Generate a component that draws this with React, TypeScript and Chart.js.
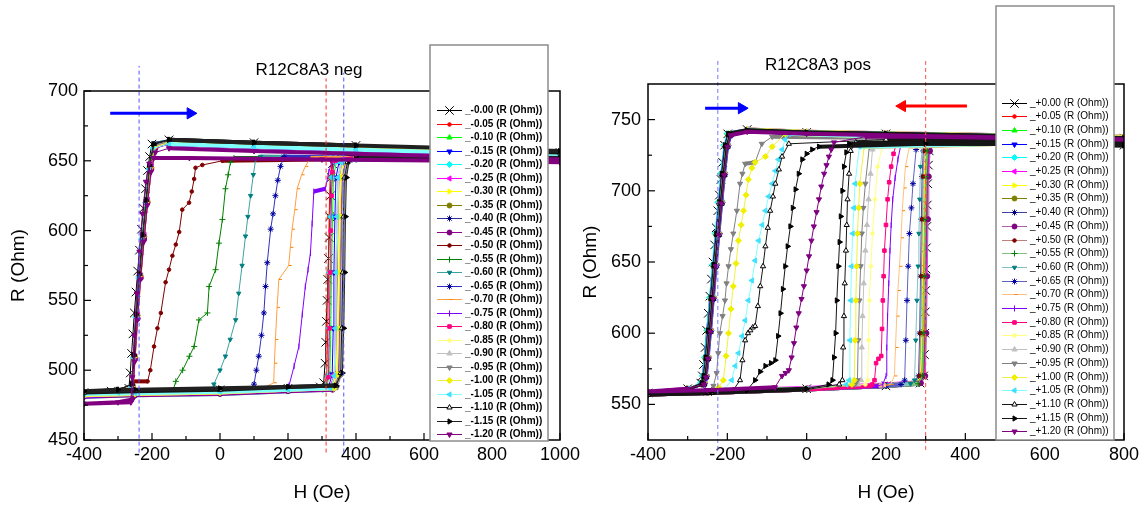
import React, { useEffect, useRef } from 'react';
import { Chart, registerables } from 'chart.js';
import { drawPoint } from 'chart.js/helpers';

Chart.register(...registerables);
Chart.defaults.font.family = "'Liberation Sans', Arial, sans-serif";

type Pt = [number, number];

// ================= LEFT PANEL: R12C8A3 neg =================
const negBias = ['-0.00', '-0.05', '-0.10', '-0.15', '-0.20', '-0.25', '-0.30', '-0.35', '-0.40', '-0.45', '-0.50', '-0.55', '-0.60', '-0.65', '-0.70', '-0.75', '-0.80', '-0.85', '-0.90', '-0.95', '-1.00', '-1.05', '-1.10', '-1.15', '-1.20'];
const negXTicks = [-400, -200, 0, 200, 400, 600, 800, 1000];
const negYTicks = [450, 500, 550, 600, 650, 700];

const n000: Pt[] = [[1000, 656], [700, 658], [400, 661], [100, 663], [-150, 665], [-200, 662], [-207, 653], [-213, 643], [-219, 630], [-225, 616], [-231, 601], [-237, 586], [-242, 571], [-247, 556], [-252, 541], [-256, 526], [-260, 512], [-264, 498], [-268, 487], [-320, 485], [-400, 484],
  [-250, 484], [0, 486], [200, 487], [295, 488], [305, 491], [309, 505], [311, 520], [313, 535], [315, 550], [317, 565], [319, 580], [321, 595], [323, 610], [325, 625], [327, 638], [331, 648], [340, 652], [400, 653], [700, 652], [1000, 651]];
const n005: Pt[] = [[1000, 655], [700, 657], [400, 660], [100, 662], [-150, 664], [-195, 661], [-208, 645], [-218, 620], [-228, 595], [-238, 568], [-246, 540], [-253, 512], [-259, 490], [-300, 485], [-400, 483],
  [-250, 484], [0, 485], [200, 487], [305, 488], [314, 496], [317, 530], [319, 570], [321, 610], [324, 638], [330, 649], [400, 652], [700, 652], [1000, 651]];
const n010: Pt[] = [[1000, 656], [700, 658], [400, 660], [100, 662], [-150, 664], [-192, 662], [-205, 645], [-215, 622], [-226, 596], [-236, 568], [-244, 540], [-252, 510], [-258, 489], [-300, 484], [-400, 482],
  [-250, 483], [0, 484], [200, 486], [312, 487], [323, 497], [326, 530], [328, 570], [331, 610], [334, 638], [342, 649], [400, 652], [700, 651], [1000, 650]];
const n015: Pt[] = [[1000, 655], [700, 657], [400, 659], [100, 661], [-150, 663], [-190, 660], [-203, 645], [-214, 620], [-224, 595], [-234, 567], [-243, 538], [-251, 508], [-257, 488], [-300, 484], [-400, 482],
  [-250, 483], [0, 484], [200, 486], [318, 487], [330, 497], [333, 530], [335, 570], [338, 610], [341, 638], [350, 649], [400, 652], [700, 651], [1000, 650]];
const n020: Pt[] = [[1000, 654], [700, 656], [400, 658], [100, 660], [-150, 662], [-196, 659], [-209, 644], [-219, 620], [-229, 594], [-239, 566], [-247, 538], [-254, 509], [-260, 487], [-300, 483], [-400, 481],
  [-250, 482], [0, 483], [200, 485], [302, 486], [318, 496], [321, 530], [323, 570], [326, 610], [329, 638], [338, 649], [400, 651], [700, 651], [1000, 650]];
const n025: Pt[] = [[1000, 655], [700, 657], [400, 659], [100, 661], [-150, 663], [-188, 660], [-200, 646], [-212, 622], [-222, 597], [-233, 568], [-242, 540], [-250, 510], [-256, 488], [-300, 484], [-400, 482],
  [-250, 483], [0, 484], [200, 486], [322, 487], [336, 497], [339, 530], [341, 570], [344, 610], [347, 638], [356, 649], [400, 652], [700, 651], [1000, 650]];
const n030: Pt[] = [[1000, 656], [700, 658], [400, 660], [100, 662], [-150, 664], [-193, 661], [-206, 646], [-217, 621], [-227, 596], [-237, 568], [-245, 540], [-252, 511], [-258, 489], [-300, 485], [-400, 483],
  [-250, 484], [0, 485], [200, 487], [332, 488], [346, 497], [349, 530], [351, 570], [354, 610], [357, 638], [366, 649], [400, 652], [700, 652], [1000, 651]];
const n035: Pt[] = [[1000, 655], [700, 657], [400, 659], [100, 661], [-150, 663], [-191, 660], [-204, 645], [-215, 621], [-225, 595], [-235, 567], [-244, 538], [-251, 509], [-257, 488], [-300, 484], [-400, 482],
  [-250, 483], [0, 484], [200, 486], [326, 487], [341, 497], [344, 530], [346, 570], [349, 610], [352, 638], [361, 649], [400, 652], [700, 651], [1000, 650]];
const n040: Pt[] = [[1000, 656], [700, 658], [400, 660], [100, 662], [-150, 664], [-194, 662], [-206, 646], [-216, 622], [-226, 597], [-236, 569], [-245, 540], [-253, 510], [-259, 489], [-300, 485], [-400, 483],
  [-250, 484], [0, 485], [200, 487], [336, 488], [351, 497], [354, 530], [356, 570], [359, 610], [362, 638], [371, 649], [400, 652], [700, 652], [1000, 651]];
const n045: Pt[] = [[1000, 654], [700, 656], [400, 658], [100, 660], [-150, 662], [-190, 659], [-202, 644], [-213, 620], [-223, 594], [-233, 566], [-242, 537], [-250, 508], [-256, 487], [-300, 483], [-400, 481],
  [-250, 482], [0, 483], [200, 485], [331, 486], [348, 497], [351, 530], [353, 570], [356, 610], [359, 638], [368, 649], [400, 651], [700, 651], [1000, 650]];
const n050: Pt[] = [[1000, 655], [700, 657], [400, 659], [100, 661], [-150, 663], [-192, 660], [-205, 645], [-216, 621], [-226, 596], [-236, 568], [-245, 539], [-252, 510], [-258, 490], [-300, 485], [-400, 483],
  [-270, 484], [-257, 492], [-213, 492], [-205, 500], [-194, 517], [-184, 530], [-174, 541], [-160, 563], [-150, 572], [-140, 582], [-130, 590], [-120, 599], [-111, 615], [-91, 620], [-83, 628], [-76, 637], [-72, 645], [-52, 647], [7, 650], [300, 651], [700, 651], [1000, 650]];
const n055: Pt[] = [[1000, 656], [700, 658], [400, 660], [100, 662], [-150, 664], [-195, 661], [-207, 645], [-217, 621], [-227, 596], [-237, 568], [-246, 539], [-253, 510], [-259, 489], [-300, 484], [-400, 482],
  [-140, 484], [-130, 492], [-110, 500], [-90, 510], [-76, 517], [-62, 536], [-37, 541], [-32, 560], [-13, 572], [-3, 591], [7, 608], [16, 630], [24, 640], [31, 649], [41, 652], [300, 652], [700, 651], [1000, 650]];
const n060: Pt[] = [[1000, 655], [700, 657], [400, 659], [100, 661], [-150, 663], [-191, 660], [-203, 645], [-214, 620], [-224, 595], [-234, 567], [-243, 539], [-251, 509], [-257, 488], [-300, 484], [-400, 482],
  [-25, 485], [-18, 490], [0, 500], [16, 510], [30, 522], [46, 536], [55, 555], [65, 575], [75, 596], [82, 610], [90, 625], [98, 640], [105, 651], [119, 653], [400, 652], [700, 651], [1000, 650]];
const n065: Pt[] = [[1000, 656], [700, 658], [400, 660], [100, 662], [-150, 664], [-193, 661], [-205, 646], [-216, 621], [-226, 596], [-236, 568], [-245, 539], [-252, 510], [-258, 489], [-300, 485], [-400, 483],
  [90, 486], [100, 490], [107, 500], [114, 510], [122, 525], [129, 541], [134, 560], [139, 577], [149, 601], [156, 612], [163, 625], [170, 636], [178, 646], [188, 653], [400, 652], [700, 651], [1000, 650]];
const n070: Pt[] = [[1000, 655], [700, 657], [400, 659], [100, 661], [-150, 663], [-189, 660], [-201, 645], [-212, 621], [-222, 596], [-232, 567], [-241, 539], [-249, 509], [-255, 488], [-300, 484], [-400, 482],
  [125, 486], [134, 488], [158, 491], [160, 505], [163, 522], [168, 545], [173, 565], [202, 575], [207, 588], [212, 601], [220, 615], [227, 630], [240, 640], [251, 646], [266, 652], [400, 652], [700, 651], [1000, 650]];
const n075: Pt[] = [[1000, 654], [700, 656], [400, 658], [100, 660], [-150, 662], [-194, 659], [-206, 644], [-216, 620], [-226, 595], [-236, 567], [-245, 538], [-252, 509], [-258, 488], [-300, 483], [-400, 481],
  [195, 486], [203, 489], [218, 503], [232, 517], [242, 540], [251, 560], [259, 572], [266, 584], [271, 605], [276, 628], [310, 630], [320, 642], [330, 650], [400, 652], [700, 651], [1000, 650]];
const n080: Pt[] = [[1000, 655], [700, 657], [400, 659], [100, 661], [-150, 663], [-190, 660], [-203, 645], [-213, 621], [-223, 596], [-233, 568], [-242, 540], [-250, 510], [-256, 489], [-300, 484], [-400, 482],
  [-250, 483], [0, 484], [200, 486], [308, 487], [319, 495], [322, 530], [324, 570], [326, 600], [328, 625], [331, 642], [338, 650], [400, 652], [700, 651], [1000, 650]];
const n085: Pt[] = [[1000, 656], [700, 658], [400, 660], [100, 662], [-150, 664], [-192, 661], [-204, 646], [-215, 621], [-225, 596], [-235, 568], [-244, 539], [-251, 510], [-257, 489], [-300, 485], [-400, 483],
  [-250, 484], [0, 485], [200, 487], [330, 488], [342, 497], [345, 530], [348, 570], [350, 610], [353, 638], [362, 649], [400, 652], [700, 651], [1000, 650]];
const n090: Pt[] = [[1000, 655], [700, 657], [400, 659], [100, 661], [-150, 663], [-195, 660], [-207, 645], [-217, 621], [-227, 596], [-237, 568], [-246, 539], [-253, 510], [-259, 489], [-300, 484], [-400, 482],
  [-250, 483], [0, 484], [200, 486], [340, 487], [352, 497], [355, 530], [358, 570], [360, 610], [363, 638], [372, 649], [400, 652], [700, 651], [1000, 650]];
const n095: Pt[] = [[1000, 656], [700, 658], [400, 660], [100, 662], [-150, 664], [-191, 661], [-203, 646], [-214, 621], [-224, 596], [-234, 568], [-243, 539], [-251, 510], [-257, 489], [-300, 485], [-400, 483],
  [-250, 484], [0, 485], [200, 487], [345, 488], [358, 497], [361, 530], [364, 570], [366, 610], [369, 638], [378, 649], [400, 652], [700, 651], [1000, 650]];
const n100: Pt[] = [[1000, 655], [700, 657], [400, 659], [100, 661], [-150, 663], [-193, 660], [-205, 645], [-216, 621], [-226, 596], [-236, 568], [-245, 539], [-252, 510], [-258, 489], [-300, 484], [-400, 482],
  [-250, 483], [0, 484], [200, 486], [335, 487], [346, 497], [349, 530], [352, 570], [354, 610], [357, 638], [366, 649], [400, 652], [700, 651], [1000, 650]];
const n105: Pt[] = [[1000, 654], [700, 656], [400, 658], [100, 660], [-150, 662], [-197, 659], [-209, 644], [-219, 620], [-229, 595], [-239, 567], [-248, 538], [-255, 509], [-261, 488], [-300, 484], [-400, 483],
  [-250, 483.5], [0, 484.5], [200, 486], [325, 487], [336, 496], [339, 530], [341, 570], [344, 610], [347, 638], [356, 649], [400, 651], [700, 651], [1000, 650]];
const n110: Pt[] = [[1000, 656], [700, 658], [400, 661], [100, 663], [-150, 665], [-194, 662], [-206, 647], [-216, 622], [-226, 597], [-236, 569], [-245, 540], [-252, 511], [-258, 490], [-300, 486], [-400, 484],
  [-250, 485], [0, 486], [200, 488], [342, 489], [355, 498], [358, 530], [361, 570], [363, 610], [366, 638], [375, 649], [400, 652], [700, 652], [1000, 651]];
const n115: Pt[] = [[1000, 657], [700, 659], [400, 661], [100, 663], [-150, 665], [-196, 662], [-208, 647], [-218, 622], [-228, 597], [-238, 569], [-247, 540], [-254, 511], [-260, 490], [-300, 486], [-400, 485],
  [-250, 486], [0, 487], [200, 488], [340, 489], [360, 498], [364, 530], [367, 570], [369, 610], [372, 638], [380, 650], [400, 653], [700, 653], [1000, 652]];
const n120: Pt[] = [[1000, 651], [700, 653], [400, 655], [100, 657], [-150, 659], [-190, 656], [-203, 642], [-214, 618], [-224, 592], [-234, 565], [-243, 536], [-251, 506], [-257, 479], [-300, 477], [-400, 476],
  [-262, 477], [-258, 495], [-252, 525], [-245, 555], [-237, 585], [-228, 612], [-218, 635], [-208, 648], [-195, 652], [-90, 652], [300, 651], [700, 650], [1000, 649]];
const negSeries: Pt[][] = [n000, n005, n010, n015, n020, n025, n030, n035, n040, n045, n050, n055, n060, n065, n070, n075, n080, n085, n090, n095, n100, n105, n110, n115, n120];

// guide lines (H position, R from, R to) and arrows (H start, H tip-centre, R)
const negGuideH = [-238, 312, 364];
const negGuideR: Pt[] = [[441, 718], [441, 709], [441, 713]];
const negArrowH: Pt[] = [[-323, -87]];
const negArrowR = [684];

// ================= RIGHT PANEL: R12C8A3 pos =================
const posBias = ['+0.00', '+0.05', '+0.10', '+0.15', '+0.20', '+0.25', '+0.30', '+0.35', '+0.40', '+0.45', '+0.50', '+0.55', '+0.60', '+0.65', '+0.70', '+0.75', '+0.80', '+0.85', '+0.90', '+0.95', '+1.00', '+1.05', '+1.10', '+1.15', '+1.20'];
const posXTicks = [-400, -200, 0, 200, 400, 600, 800];
const posYTicks = [550, 600, 650, 700, 750];

const p000: Pt[] = [[800, 737], [500, 739], [200, 740], [0, 741], [-150, 743], [-199, 740], [-207, 732], [-212, 720], [-216, 708], [-220, 697], [-224, 686], [-228, 674], [-232, 662], [-236, 650], [-240, 638], [-244, 626], [-248, 614], [-252, 602], [-256, 590], [-260, 578], [-263, 570], [-267, 565], [-300, 561], [-400, 558],
  [-250, 559], [0, 561], [200, 563], [286, 565], [295, 570], [297, 585], [298, 600], [299, 615], [300, 630], [301, 645], [302, 660], [303, 675], [304, 690], [305, 705], [307, 718], [309, 728], [316, 734], [500, 733], [800, 732]];
const p005: Pt[] = [[800, 736], [500, 738], [200, 739.5], [0, 740.5], [-150, 742], [-192, 739], [-200, 731], [-208, 711], [-215, 691], [-222, 669], [-229, 647], [-236, 624], [-243, 601], [-249, 582], [-254, 569], [-259, 564], [-300, 560], [-400, 557],
  [-250, 558], [0, 560.5], [200, 563], [278, 564.5], [289, 570], [292, 600], [294, 640], [296, 680], [298, 710], [301, 728], [308, 734], [500, 733], [800, 732]];
const p010: Pt[] = [[800, 737], [500, 738.5], [200, 740], [0, 741], [-150, 742.5], [-197, 740], [-205, 732], [-213, 712], [-220, 692], [-227, 670], [-234, 648], [-241, 625], [-248, 602], [-254, 583], [-259, 570], [-264, 565], [-300, 561], [-400, 558],
  [-250, 559], [0, 561], [200, 563.5], [280, 565], [291, 570], [294, 600], [296, 640], [298, 680], [300, 710], [303, 728], [310, 734], [500, 733], [800, 732]];
const p015: Pt[] = [[800, 736], [500, 738], [200, 739.5], [0, 740.5], [-150, 742], [-189, 739], [-197, 731], [-205, 711], [-212, 691], [-219, 669], [-226, 647], [-233, 624], [-240, 601], [-246, 582], [-251, 569], [-256, 564], [-300, 560], [-400, 557],
  [-250, 558], [0, 560.5], [200, 563], [284, 564.5], [295, 570], [298, 600], [300, 640], [302, 680], [304, 710], [307, 728], [314, 734], [500, 733], [800, 732]];
const p020: Pt[] = [[800, 737], [500, 738.5], [200, 740], [0, 741], [-150, 742.5], [-201, 740], [-209, 732], [-217, 712], [-224, 692], [-231, 670], [-238, 648], [-245, 625], [-252, 602], [-258, 583], [-263, 570], [-268, 565], [-300, 561], [-400, 558],
  [-250, 559], [0, 561], [200, 563.5], [274, 565], [285, 570], [288, 600], [290, 640], [292, 680], [294, 710], [297, 728], [304, 734], [500, 733], [800, 732]];
const p025: Pt[] = [[800, 738], [500, 739], [200, 740.5], [0, 741.5], [-150, 743], [-194, 740], [-202, 732], [-210, 712], [-217, 692], [-224, 670], [-231, 648], [-238, 625], [-245, 602], [-251, 583], [-256, 570], [-261, 565], [-300, 561], [-400, 558.5],
  [-250, 559.5], [0, 561.5], [200, 564], [286, 565.5], [297, 570], [300, 600], [302, 640], [304, 680], [306, 710], [309, 728], [316, 734], [500, 733.5], [800, 732.5]];
const p030: Pt[] = [[800, 737], [500, 738.5], [200, 740], [0, 741], [-150, 742.5], [-191, 740], [-199, 732], [-207, 712], [-214, 692], [-221, 670], [-228, 648], [-235, 625], [-242, 602], [-248, 583], [-253, 570], [-258, 565], [-300, 561], [-400, 558],
  [-250, 559], [0, 561], [200, 563.5], [277, 565], [288, 570], [291, 600], [293, 640], [295, 680], [297, 710], [300, 728], [307, 734], [500, 733], [800, 732]];
const p035: Pt[] = [[800, 736], [500, 738], [200, 739.5], [0, 740.5], [-150, 742], [-198, 739], [-206, 731], [-214, 711], [-221, 691], [-228, 669], [-235, 647], [-242, 624], [-249, 601], [-255, 582], [-260, 569], [-265, 564], [-300, 560], [-400, 557],
  [-250, 558], [0, 560.5], [200, 563], [283, 564.5], [294, 570], [297, 600], [299, 640], [301, 680], [303, 710], [306, 728], [313, 734], [500, 733], [800, 732]];
const p040: Pt[] = [[800, 737], [500, 738.5], [200, 740], [0, 741], [-150, 742.5], [-193, 740], [-201, 732], [-209, 712], [-216, 692], [-223, 670], [-230, 648], [-237, 625], [-244, 602], [-250, 583], [-255, 570], [-260, 565], [-300, 561], [-400, 558],
  [-250, 559], [0, 561], [200, 563.5], [271, 565], [282, 570], [285, 600], [287, 640], [289, 680], [291, 710], [294, 728], [301, 734], [500, 733], [800, 732]];
const p045: Pt[] = [[800, 738], [500, 739], [200, 740.5], [0, 741.5], [-150, 743], [-196, 740], [-204, 732], [-212, 712], [-219, 692], [-226, 670], [-233, 648], [-240, 625], [-247, 602], [-253, 583], [-258, 570], [-263, 565], [-300, 561], [-400, 558],
  [-250, 559], [0, 561], [200, 563.5], [288, 565], [299, 570], [302, 600], [304, 640], [306, 680], [308, 710], [311, 728], [318, 735], [500, 734], [800, 733]];
const p050: Pt[] = [[800, 737], [500, 738.5], [200, 740], [0, 741], [-150, 742.5], [-190, 740], [-198, 732], [-206, 712], [-213, 692], [-220, 670], [-227, 648], [-234, 625], [-241, 602], [-247, 583], [-252, 570], [-257, 565], [-300, 561], [-400, 558],
  [-250, 559], [0, 561], [200, 563.5], [273, 565], [284, 570], [287, 600], [289, 640], [291, 680], [293, 710], [296, 728], [303, 734], [500, 733], [800, 732]];
const p055: Pt[] = [[800, 736], [500, 738], [200, 739.5], [0, 740.5], [-150, 742], [-195, 739], [-203, 731], [-211, 711], [-218, 691], [-225, 669], [-232, 647], [-239, 624], [-246, 601], [-252, 582], [-257, 569], [-262, 564], [-300, 560], [-400, 557],
  [-250, 558], [0, 560.5], [200, 563], [281, 564.5], [292, 570], [295, 600], [297, 640], [299, 680], [301, 710], [304, 728], [311, 734], [500, 733], [800, 732]];
const p060: Pt[] = [[800, 737], [500, 738.5], [200, 740], [0, 741], [-150, 742.5], [-193, 740], [-201, 732], [-209, 712], [-216, 692], [-223, 670], [-230, 648], [-237, 625], [-244, 602], [-250, 583], [-255, 570], [-260, 565], [-300, 561], [-400, 558],
  [-250, 559], [0, 561], [200, 563.5], [262, 564.5], [272, 567], [275, 595], [278, 623], [281, 647], [283, 670], [285, 694], [287, 717], [293, 733], [500, 733], [800, 732]];
const p065: Pt[] = [[800, 736], [500, 738], [200, 739.5], [0, 740.5], [-150, 742], [-197, 739], [-205, 731], [-213, 711], [-220, 691], [-227, 669], [-234, 647], [-241, 624], [-248, 601], [-254, 582], [-259, 569], [-264, 564], [-300, 560], [-400, 557],
  [-250, 558], [0, 560.5], [200, 563], [238, 564], [247, 567], [250, 595], [253, 623], [256, 647], [259, 670], [264, 688], [268, 705], [276, 729], [290, 733], [500, 733], [800, 732]];
const p070: Pt[] = [[800, 737], [500, 738.5], [200, 740], [0, 741], [-150, 742.5], [-194, 740], [-202, 732], [-210, 712], [-217, 692], [-224, 670], [-231, 648], [-238, 625], [-245, 602], [-251, 583], [-256, 570], [-261, 565], [-300, 561], [-400, 558],
  [-250, 559], [0, 561], [200, 563.5], [212, 564], [221, 570], [224, 590], [227, 612], [230, 630], [234, 647], [238, 667], [241, 686], [245, 702], [249, 717], [259, 731], [500, 733], [800, 732]];
const p075: Pt[] = [[800, 737], [500, 738.5], [200, 740], [0, 741], [-150, 742.5], [-199, 740], [-207, 732], [-215, 712], [-222, 692], [-229, 670], [-236, 648], [-243, 625], [-250, 602], [-256, 583], [-261, 570], [-266, 565], [-300, 561], [-400, 558],
  [-250, 559], [0, 561], [180, 563], [192, 564], [200, 570], [202, 590], [204, 612], [207, 635], [210, 658], [213, 676], [217, 694], [223, 709], [230, 722], [238, 733], [500, 733], [800, 732]];
const p080: Pt[] = [[800, 736], [500, 738], [200, 739.5], [0, 740.5], [-150, 742], [-192, 739], [-200, 731], [-208, 711], [-215, 691], [-222, 669], [-229, 647], [-236, 624], [-243, 601], [-249, 582], [-254, 569], [-259, 564], [-300, 560], [-400, 557],
  [-250, 558], [0, 560.5], [160, 563], [165, 564], [171, 567], [175, 579], [181, 582], [188, 584], [190, 603], [192, 623], [194, 640], [196, 658], [200, 676], [204, 694], [208, 706], [213, 717], [219, 726], [226, 733], [500, 733], [800, 732]];
const p085: Pt[] = [[800, 737], [500, 738.5], [200, 740], [0, 741], [-150, 742.5], [-196, 740], [-204, 732], [-212, 712], [-219, 692], [-226, 670], [-233, 648], [-240, 625], [-247, 602], [-253, 583], [-258, 570], [-263, 565], [-300, 561], [-400, 558],
  [-250, 559], [0, 561], [148, 564], [154, 567], [156, 595], [158, 623], [162, 647], [166, 670], [172, 694], [179, 717], [192, 733], [500, 733], [800, 732]];
const p090: Pt[] = [[800, 738], [500, 739], [200, 740.5], [0, 741.5], [-150, 743], [-195, 740], [-203, 732], [-211, 712], [-218, 692], [-225, 670], [-232, 648], [-239, 625], [-246, 602], [-252, 583], [-257, 570], [-262, 565], [-300, 561], [-400, 558],
  [-250, 559], [0, 561], [130, 564], [137, 567], [139, 590], [141, 612], [144, 635], [148, 658], [152, 676], [156, 694], [161, 712], [166, 729], [179, 735], [500, 734], [800, 733]];
const p095: Pt[] = [[800, 737], [500, 738.5], [200, 740], [0, 741], [-150, 742.5], [-190, 740], [-198, 732], [-206, 712], [-213, 692], [-220, 670], [-227, 648], [-234, 625], [-241, 602], [-247, 583], [-252, 570], [-257, 565], [-300, 561], [-400, 558],
  [-245, 559], [-235, 563], [-227, 572], [-223, 586], [-219, 600], [-212, 612], [-206, 623], [-202, 635], [-197, 647], [-191, 659], [-185, 670], [-176, 686], [-168, 705], [-162, 712], [-155, 719], [-130, 720], [-113, 733], [-87, 738], [200, 737], [500, 736], [800, 735],
  [500, 738], [200, 739.5], [0, 740.5], [-150, 742], [-194, 739], [-202, 731], [-210, 711], [-217, 691], [-224, 669], [-231, 647], [-238, 624], [-245, 601], [-251, 582], [-256, 569], [-261, 564], [-300, 560], [-400, 557],
  [-250, 558], [0, 560.5], [122, 564], [128, 567], [130, 595], [133, 623], [136, 647], [139, 670], [143, 688], [148, 705], [158, 731], [500, 733], [800, 732]];
const p100: Pt[] = [[800, 738], [500, 739], [200, 740.5], [0, 741.5], [-150, 743], [-197, 740], [-205, 732], [-213, 712], [-220, 692], [-227, 670], [-234, 648], [-241, 625], [-248, 602], [-254, 583], [-259, 570], [-264, 565], [-300, 561], [-400, 558],
  [-240, 559], [-222, 562], [-210, 567], [-203, 584], [-197, 600], [-191, 617], [-185, 633], [-178, 649], [-172, 665], [-165, 676], [-159, 686], [-153, 697], [-147, 708], [-138, 716], [-130, 720], [-104, 724], [-87, 731], [-54, 740], [200, 738], [500, 737], [800, 736],
  [500, 738.5], [200, 740], [0, 741], [-150, 742.5], [-192, 740], [-200, 732], [-208, 712], [-215, 692], [-222, 670], [-229, 648], [-236, 625], [-243, 602], [-249, 583], [-254, 570], [-259, 565], [-300, 561], [-400, 558],
  [-250, 559], [0, 561], [114, 564], [120, 567], [122, 595], [124, 623], [126, 647], [128, 670], [131, 688], [134, 705], [145, 731], [500, 733], [800, 732]];
const p105: Pt[] = [[800, 737], [500, 738.5], [200, 740], [0, 741], [-150, 742.5], [-193, 740], [-201, 732], [-209, 712], [-216, 692], [-223, 670], [-230, 648], [-237, 625], [-244, 602], [-250, 583], [-255, 570], [-260, 565], [-300, 561], [-400, 558],
  [-240, 559], [-210, 560], [-189, 567], [-180, 577], [-172, 586], [-163, 598], [-155, 609], [-147, 623], [-138, 637], [-130, 651], [-121, 665], [-112, 676], [-104, 686], [-96, 696], [-87, 705], [-79, 714], [-71, 722], [-62, 729], [-54, 736], [-45, 740], [200, 738], [500, 737], [800, 736],
  [500, 738.5], [200, 740], [0, 741], [-150, 742.5], [-196, 740], [-204, 732], [-212, 712], [-219, 692], [-226, 670], [-233, 648], [-240, 625], [-247, 602], [-253, 583], [-258, 570], [-263, 565], [-300, 561], [-400, 558],
  [-250, 559], [0, 561], [100, 564], [107, 567], [109, 595], [111, 623], [113, 647], [116, 670], [119, 688], [122, 705], [133, 731], [500, 733], [800, 732]];
const p110: Pt[] = [[800, 736], [500, 738], [200, 739.5], [0, 740.5], [-150, 742], [-195, 739], [-203, 731], [-211, 711], [-218, 691], [-225, 669], [-232, 647], [-239, 624], [-246, 601], [-252, 582], [-257, 569], [-262, 564], [-300, 560], [-400, 557],
  [-240, 558], [-185, 560], [-168, 567], [-162, 581], [-155, 595], [-148, 600], [-142, 602], [-136, 604], [-130, 605], [-123, 619], [-117, 633], [-110, 647], [-104, 661], [-98, 674], [-92, 686], [-85, 696], [-79, 705], [-70, 715], [-62, 724], [-45, 733], [200, 736], [500, 735], [800, 734],
  [500, 738], [200, 739.5], [0, 740.5], [-150, 742], [-191, 739], [-199, 731], [-207, 711], [-214, 691], [-221, 669], [-228, 647], [-235, 624], [-242, 601], [-248, 582], [-253, 569], [-258, 564], [-300, 560], [-400, 557],
  [-250, 558], [0, 560.5], [82, 564], [90, 567], [92, 590], [94, 612], [96, 635], [99, 658], [101, 676], [103, 694], [107, 712], [111, 728], [124, 734], [500, 733], [800, 732]];
const p115: Pt[] = [[800, 737], [500, 738.5], [200, 740], [0, 741], [-150, 742.5], [-198, 740], [-206, 732], [-214, 712], [-221, 692], [-228, 670], [-235, 648], [-242, 625], [-249, 602], [-255, 583], [-260, 570], [-265, 565], [-300, 561], [-400, 558],
  [-240, 559], [-150, 560], [-130, 567], [-117, 573], [-104, 577], [-90, 579], [-79, 581], [-72, 598], [-66, 614], [-60, 631], [-54, 647], [-48, 661], [-41, 675], [-35, 688], [-28, 701], [-20, 712], [-11, 722], [0, 726], [14, 729], [31, 731], [300, 733], [500, 733], [800, 732],
  [500, 738.5], [200, 740], [0, 741], [-150, 742.5], [-194, 740], [-202, 732], [-210, 712], [-217, 692], [-224, 670], [-231, 648], [-238, 625], [-245, 602], [-251, 583], [-256, 570], [-261, 565], [-300, 561], [-400, 558],
  [-250, 559], [0, 561], [55, 564], [65, 567], [69, 583], [73, 600], [76, 623], [80, 647], [83, 664], [86, 682], [90, 700], [94, 717], [100, 727], [107, 733], [500, 733], [800, 732]];
const p120: Pt[] = [[800, 736], [500, 737.5], [200, 739], [0, 740], [-150, 741.5], [-192, 739], [-200, 731], [-208, 711], [-215, 691], [-222, 669], [-229, 647], [-236, 624], [-243, 601], [-249, 582], [-254, 569], [-259, 564], [-300, 561], [-400, 559],
  [-250, 560], [-80, 562], [-62, 570], [-53, 572], [-45, 574], [-38, 583], [-32, 593], [-26, 604], [-20, 614], [-13, 624], [-7, 633], [0, 644], [6, 654], [12, 665], [18, 675], [25, 685], [31, 694], [37, 703], [44, 712], [50, 718], [56, 724], [62, 729], [69, 734], [150, 738], [300, 738], [500, 737], [800, 736]];
const posSeries: Pt[][] = [p000, p005, p010, p015, p020, p025, p030, p035, p040, p045, p050, p055, p060, p065, p070, p075, p080, p085, p090, p095, p100, p105, p110, p115, p120];

const posGuideH = [-224, 300];
const posGuideR: Pt[] = [[518, 793], [518, 793]];
const posArrowH: Pt[] = [[-256, -164], [404, 241]];
const posArrowR = [758, 759.5];

// ================= STYLES =================
const markColors = ['#000000', '#FF0000', '#00FF00', '#0000FF', '#00FFFF', '#FF00FF', '#FFFF00', '#808000', '#000080', '#800080', '#800000', '#008000', '#008080', '#0000A0', '#FF8000', '#8000FF', '#FF0080', '#FFFF80', '#C0C0C0', '#808080', '#F0F000', '#40E0FF', '#000000', '#000000', '#800080'];
const negLineColors = ['#000000', '#FF0000', '#00FF00', '#0000FF', '#00FFFF', '#FF00FF', '#FFFF00', '#808000', '#3030A0', '#900090', '#800000', '#008000', '#40A0A0', '#3030C0', '#FFA040', '#8000FF', '#FF0080', '#FFFF80', '#C0C0C0', '#808080', '#F0F040', '#80FFFF', '#151515', '#202020', '#800080'];
const posLineColors = ['#000000', '#FF0000', '#00FF00', '#0000FF', '#00FFFF', '#FF00FF', '#FFFF00', '#808000', '#4040A0', '#B060B0', '#C08080', '#80C080', '#80C0C0', '#6060C0', '#FFC080', '#8000FF', '#FF0080', '#FFFF80', '#C0C0C0', '#808080', '#F0F040', '#80FFFF', '#151515', '#151515', '#800080'];
const markStyles = ['crossRot', 'circle', 'triangle', 'triangle', 'rectRot', 'triangle', 'triangle', 'circle', 'star', 'circle', 'circle', 'cross', 'triangle', 'star', 'dash', 'line', 'rect', 'circle', 'triangle', 'triangle', 'rectRot', 'triangle', 'triangle', 'triangle', 'triangle'];
const markRot = [0, 0, 0, 180, 0, 270, 90, 0, 0, 0, 0, 0, 180, 0, 0, 90, 0, 0, 0, 180, 0, 270, 0, 90, 180];
const markRad = [6, 1.8, 3, 3, 3, 3, 3, 2.5, 3, 2.5, 1.8, 3, 2.5, 3, 3, 3, 2.5, 1.8, 3, 3, 3, 3, 3, 3, 3];
const markFill = ['', '', '', '', '', '', '', '', '', '', '', '', '', '', '', '', '', '', '', '', '', '', '#FFFFFF', '', ''];

interface LegendCfg { x0: number; y0: number; x1: number; y1: number; firstY: number; step: number; lx0: number; lx1: number; tx: number; font: string; }
interface Panel {
  series: Pt[][]; bias: string[]; lineColors: string[];
  xMin: number; xMax: number; yMin: number; yMax: number; xTicks: number[]; yTicks: number[];
  yAxisW: number; padRight: number; padTop: number; yTitlePad: number; yTickPad: number;
  title: string; titleX: number; titleY: number; legend: LegendCfg;
  guideH: number[]; guideR: Pt[]; guideColors: string[];
  arrowH: Pt[]; arrowR: number[]; arrowColors: string[]; arrowRot: number[];
}

const negPanel: Panel = {
  series: negSeries, bias: negBias, lineColors: negLineColors,
  xMin: -400, xMax: 1000, yMin: 450, yMax: 700, xTicks: negXTicks, yTicks: negYTicks,
  yAxisW: 84, padRight: 40, padTop: 91, yTitlePad: 7, yTickPad: 6,
  title: 'R12C8A3 neg', titleX: 309, titleY: 70,
  legend: { x0: 430, y0: 45, x1: 548, y1: 441, firstY: 110, step: 13.5, lx0: 437, lx1: 462, tx: 465, font: "bold 10px 'Liberation Sans', Arial, sans-serif" },
  guideH: negGuideH, guideR: negGuideR, guideColors: ['#5555FF', '#FF3030', '#5555FF'],
  arrowH: negArrowH, arrowR: negArrowR, arrowColors: ['#0000FF'], arrowRot: [90],
};
const posPanel: Panel = {
  series: posSeries, bias: posBias, lineColors: posLineColors,
  xMin: -400, xMax: 800, yMin: 525, yMax: 775, xTicks: posXTicks, yTicks: posYTicks,
  yAxisW: 74, padRight: 24, padTop: 84, yTitlePad: 5, yTickPad: 7,
  title: 'R12C8A3 pos', titleX: 244, titleY: 65,
  legend: { x0: 422, y0: 6, x1: 540, y1: 440, firstY: 102.5, step: 13.7, lx0: 428, lx1: 453, tx: 456, font: "10px 'Liberation Sans', Arial, sans-serif" },
  guideH: posGuideH, guideR: posGuideR, guideColors: ['#7777FF', '#FF5050'],
  arrowH: posArrowH, arrowR: posArrowR, arrowColors: ['#0000FF', '#FF0000'], arrowRot: [90, 270],
};

function buildConfig(p: Panel): any {
  const n = p.series.length;
  const datasets: any[] = p.series.map((pts, i) => ({
    label: p.bias[i],
    data: pts.map(([x, y]) => ({ x, y })),
    borderColor: p.lineColors[i],
    backgroundColor: markColors[i],
    pointBackgroundColor: markFill[i] || markColors[i],
    pointBorderColor: markColors[i],
    pointStyle: markStyles[i],
    pointRotation: markRot[i],
    pointRadius: markRad[i],
    pointBorderWidth: 1,
    borderWidth: 1,
    tension: 0,
    order: 200 - i,
    segment: {
      borderWidth: (c: any) => (Math.abs(c.p0.parsed.y - c.p1.parsed.y) < 3 && Math.abs(c.p0.parsed.x - c.p1.parsed.x) > 20 ? 4 : 1),
    },
  }));
  p.guideH.forEach((h, i) => {
    datasets.push({
      label: 'guide', data: [{ x: h, y: p.guideR[i][0] }, { x: h, y: p.guideR[i][1] }],
      borderColor: p.guideColors[i], borderWidth: 1, borderDash: [4, 3], pointRadius: 0, clip: false, order: 1,
    });
  });
  p.arrowH.forEach((hh, i) => {
    datasets.push({
      label: 'arrow', data: [{ x: hh[0], y: p.arrowR[i] }, { x: hh[1], y: p.arrowR[i] }],
      borderColor: p.arrowColors[i], backgroundColor: p.arrowColors[i], borderWidth: 3,
      pointStyle: 'triangle', pointRotation: p.arrowRot[i], pointBorderWidth: 1,
      pointBackgroundColor: p.arrowColors[i], pointBorderColor: p.arrowColors[i],
      pointRadius: (c: any) => (c.dataIndex === 1 ? 6.5 : 0), order: 0,
    });
  });

  const plugin = {
    id: 'decor',
    afterDatasetsDraw(chart: any) {
      const { ctx, chartArea: a, scales } = chart;
      const xs = scales.x, ys = scales.y;
      ctx.save();
      ctx.strokeStyle = '#000';
      ctx.lineWidth = 1.5;
      ctx.strokeRect(a.left, a.top, a.right - a.left, a.bottom - a.top);
      ctx.lineWidth = 1.2;
      const xt = p.xTicks;
      for (let i = 0; i < xt.length; i++) {
        const px = xs.getPixelForValue(xt[i]);
        ctx.beginPath(); ctx.moveTo(px, a.bottom); ctx.lineTo(px, a.bottom - 7); ctx.stroke();
        if (i < xt.length - 1) {
          const mx = xs.getPixelForValue((xt[i] + xt[i + 1]) / 2);
          ctx.beginPath(); ctx.moveTo(mx, a.bottom); ctx.lineTo(mx, a.bottom - 4); ctx.stroke();
        }
      }
      const yt = p.yTicks;
      const yAll = [p.yMin, ...yt, p.yMax];
      for (let i = 0; i < yt.length; i++) {
        const py = ys.getPixelForValue(yt[i]);
        ctx.beginPath(); ctx.moveTo(a.left, py); ctx.lineTo(a.left + 7, py); ctx.stroke();
      }
      for (let i = 0; i < yAll.length - 1; i++) {
        if (yAll[i + 1] - yAll[i] < 40) continue;
        const my = ys.getPixelForValue((yAll[i] + yAll[i + 1]) / 2);
        ctx.beginPath(); ctx.moveTo(a.left, my); ctx.lineTo(a.left + 4, my); ctx.stroke();
      }
      const L = p.legend;
      ctx.fillStyle = '#FFFFFF';
      ctx.fillRect(L.x0, L.y0, L.x1 - L.x0, L.y1 - L.y0);
      ctx.strokeStyle = '#8C8C8C';
      ctx.lineWidth = 1.5;
      ctx.strokeRect(L.x0, L.y0, L.x1 - L.x0, L.y1 - L.y0);
      ctx.font = L.font;
      ctx.textBaseline = 'middle';
      ctx.textAlign = 'left';
      for (let i = 0; i < n; i++) {
        const y = Math.round(L.firstY + i * L.step) + 0.5;
        ctx.strokeStyle = p.lineColors[i];
        ctx.lineWidth = 1;
        ctx.beginPath(); ctx.moveTo(L.lx0, y); ctx.lineTo(L.lx1, y); ctx.stroke();
        ctx.fillStyle = markFill[i] || markColors[i];
        ctx.strokeStyle = markColors[i];
        drawPoint(ctx, { pointStyle: markStyles[i], rotation: markRot[i], radius: markRad[i], borderWidth: 1 } as any, (L.lx0 + L.lx1) / 2, y);
        ctx.fillStyle = '#000';
        ctx.fillText('_' + p.bias[i] + ' (R (Ohm))', L.tx, y);
      }
      ctx.restore();
    },
    afterDraw(chart: any) {
      const { ctx } = chart;
      ctx.save();
      ctx.fillStyle = '#000';
      ctx.font = "17px 'Liberation Sans', Arial, sans-serif";
      ctx.textAlign = 'center';
      ctx.textBaseline = 'middle';
      ctx.fillText(p.title, p.titleX, p.titleY);
      ctx.restore();
    },
  };

  return {
    type: 'line',
    data: { datasets },
    options: {
      animation: false,
      responsive: false,
      events: [],
      layout: { padding: { left: 0, right: p.padRight, top: p.padTop, bottom: 0 } },
      plugins: { legend: { display: false }, tooltip: { enabled: false }, title: { display: false } },
      scales: {
        x: {
          type: 'linear', min: p.xMin, max: p.xMax,
          afterBuildTicks: (s: any) => { s.ticks = p.xTicks.map((v) => ({ value: v })); },
          ticks: { font: { size: 18 }, color: '#000', padding: 4, maxRotation: 0, autoSkip: false, callback: (v: any) => String(v) },
          grid: { display: false, drawTicks: false }, border: { display: false },
          title: { display: true, text: 'H (Oe)', font: { size: 19 }, color: '#000', padding: { top: 0, bottom: 4 } },
          afterFit: (s: any) => { s.height = 68; },
        },
        y: {
          type: 'linear', min: p.yMin, max: p.yMax,
          afterBuildTicks: (s: any) => { s.ticks = p.yTicks.map((v) => ({ value: v })); },
          ticks: { font: { size: 18 }, color: '#000', padding: p.yTickPad, autoSkip: false, callback: (v: any) => String(v) },
          grid: { display: false, drawTicks: false }, border: { display: false },
          title: { display: true, text: 'R (Ohm)', font: { size: 19 }, color: '#000', padding: { top: p.yTitlePad, bottom: 0 } },
          afterFit: (s: any) => { s.width = p.yAxisW; },
        },
      },
    },
    plugins: [plugin],
  };
}

export default function App() {
  const leftRef = useRef<HTMLCanvasElement>(null);
  const rightRef = useRef<HTMLCanvasElement>(null);
  useEffect(() => {
    const c1 = new Chart(leftRef.current as HTMLCanvasElement, buildConfig(negPanel));
    const c2 = new Chart(rightRef.current as HTMLCanvasElement, buildConfig(posPanel));
    return () => { c1.destroy(); c2.destroy(); };
  }, []);
  return (
    <div style={{ position: 'fixed', left: 0, top: 0, width: 1148, height: 508, background: '#FFFFFF', overflow: 'hidden' }}>
      <canvas ref={leftRef} width={600} height={508} style={{ position: 'absolute', left: 0, top: 0 }} />
      <canvas ref={rightRef} width={574} height={508} style={{ position: 'absolute', left: 574, top: 0 }} />
    </div>
  );
}
